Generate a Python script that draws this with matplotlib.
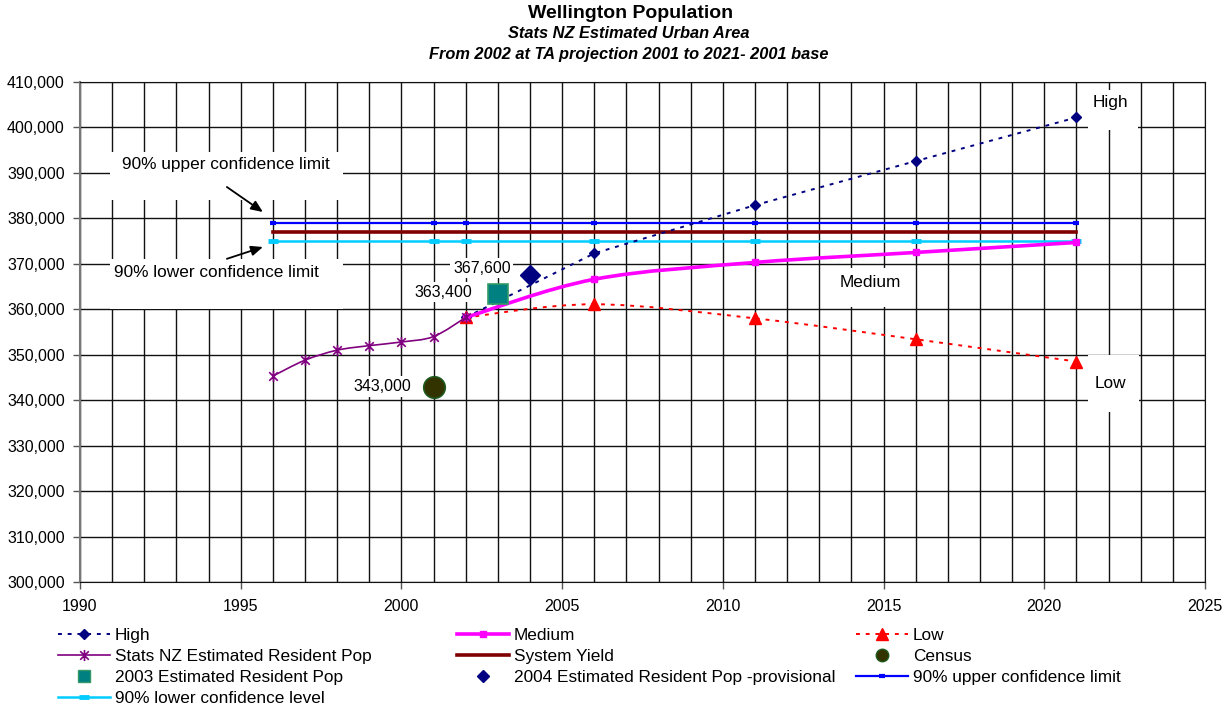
import matplotlib
matplotlib.use("Agg")
import matplotlib.pyplot as plt
from matplotlib.lines import Line2D
from matplotlib.patches import Rectangle, PathPatch
from matplotlib.path import Path
from matplotlib.ticker import FuncFormatter, MultipleLocator

plt.rcParams["font.family"] = ["Liberation Sans", "DejaVu Sans"]

# ---- data -----------------------------------------------------------------
erp_years = [1996, 1997, 1998, 1999, 2000, 2001, 2002]
erp_pop = [345300, 348800, 351000, 352000, 352800, 354000, 358200]

proj_years = [2002, 2006, 2011, 2016, 2021]
high_pop = [358200, 372300, 382900, 392600, 402200]
medium_pop = [358200, 366600, 370300, 372500, 374700]
low_pop = [358200, 361100, 358000, 353400, 348500]

conf_years = [1996, 2001, 2002, 2006, 2011, 2016, 2021]
upper_conf = [379000] * len(conf_years)
lower_conf = [375000] * len(conf_years)
yield_years = [1996, 2021]
system_yield = [377000, 377000]

census_year, census_pop = [2001], [343000]
erp2003_year, erp2003_pop = [2003], [363400]
erp2004_year, erp2004_pop = [2004], [367600]

NAVY, MAGENTA, RED, PURPLE = "#000080", "#FF00FF", "#FF0000", "#800080"
MAROON, BLUE, CYAN = "#800000", "#0000FF", "#00CCFF"

# asterisk-like marker: an X plus a vertical bar (Excel "star")
STAR = Path([(-1, -1), (1, 1), (-1, 1), (1, -1), (0, -1.3), (0, 1.3)],
            [Path.MOVETO, Path.LINETO, Path.MOVETO, Path.LINETO, Path.MOVETO, Path.LINETO])


def smooth_path(xs, ys):
    """Bezier path through the points, Excel-style smoothing (Catmull-Rom)."""
    pts = list(zip(xs, ys))
    verts, codes = [pts[0]], [Path.MOVETO]
    for i in range(len(pts) - 1):
        p0 = pts[i - 1] if i > 0 else pts[i]
        p1, p2 = pts[i], pts[i + 1]
        p3 = pts[i + 2] if i + 2 < len(pts) else pts[i + 1]
        c1 = (p1[0] + (p2[0] - p0[0]) / 6, p1[1] + (p2[1] - p0[1]) / 6)
        c2 = (p2[0] - (p3[0] - p1[0]) / 6, p2[1] - (p3[1] - p1[1]) / 6)
        verts += [c1, c2, p2]
        codes += [Path.CURVE4] * 3
    return Path(verts, codes)


fig = plt.figure(figsize=(12.28, 7.08), dpi=100)
ax = fig.add_axes([80 / 1228, 1 - 582 / 708, 1125 / 1228, 500 / 708])

ax.set_xlim(1990, 2025)
ax.set_ylim(300000, 410000)
ax.xaxis.set_major_locator(MultipleLocator(5))
ax.xaxis.set_minor_locator(MultipleLocator(1))
ax.yaxis.set_major_locator(MultipleLocator(10000))
ax.yaxis.set_major_formatter(FuncFormatter(lambda v, p: f"{v:,.0f}"))
ax.grid(True, which="both", axis="x", color="#111111", lw=1.0)
ax.grid(True, which="major", axis="y", color="#111111", lw=1.0)
ax.set_axisbelow(True)
ax.tick_params(axis="both", which="major", direction="out", length=5, width=1,
               labelsize=11.5, color="#555555")
ax.tick_params(axis="x", which="minor", length=0)
ax.tick_params(axis="y", pad=6)
ax.tick_params(axis="x", pad=7)
for s in ["top", "right"]:
    ax.spines[s].set_color("#111111")
ax.spines["left"].set_color("#777777")
ax.spines["bottom"].set_color("#111111")
ax.spines["left"].set_linewidth(1.5)

# ---- white label boxes that hide the grid --------------------------------
for (x0, x1, y0, y1) in [(1990.93, 1998.18, 384050, 394600),
                         (1990.93, 1998.18, 360070, 371070),
                         (2021.36, 2022.92, 399450, 408250),
                         (2021.36, 2022.95, 337400, 349940),
                         (2013.3, 2015.9, 360500, 369100)]:
    ax.add_patch(Rectangle((x0, y0), x1 - x0, y1 - y0, facecolor="white",
                           edgecolor="none", zorder=1.5))

# ---- series --------------------------------------------------------------
ax.plot(yield_years, system_yield, color=MAROON, lw=2.6, zorder=3)
ax.plot(conf_years, upper_conf, color=BLUE, lw=1.6, marker="_", ms=5, mew=3, zorder=3)
ax.plot(conf_years, lower_conf, color=CYAN, lw=1.8, marker="_", ms=7, mew=3.5, zorder=3)

ax.plot(proj_years, high_pop, color=NAVY, lw=1.4, ls=(0, (2, 3)), marker="D", ms=5.5, zorder=4)

ax.add_patch(PathPatch(smooth_path(proj_years, low_pop), fill=False, edgecolor=RED,
                       lw=1.4, ls=(0, (2, 3)), zorder=4))
ax.plot(proj_years, low_pop, ls="none", color=RED, marker="^", ms=8, zorder=4)

ax.add_patch(PathPatch(smooth_path(proj_years, medium_pop), fill=False, edgecolor=MAGENTA,
                       lw=2.6, zorder=4))
ax.plot(proj_years, medium_pop, ls="none", color=MAGENTA, marker="s", ms=5, zorder=4)

ax.add_patch(PathPatch(smooth_path(erp_years, erp_pop), fill=False, edgecolor=PURPLE,
                       lw=1.2, zorder=5))
ax.plot(erp_years, erp_pop, ls="none", color=PURPLE, marker=STAR, ms=8, mew=1.2, zorder=5)

ax.plot(census_year, census_pop, ls="none", marker="o", ms=15.5, mfc="#333300",
        mec="#1E5A1E", mew=1.2, zorder=6)
ax.plot(erp2003_year, erp2003_pop, ls="none", marker="s", ms=14.5, mfc="#008080",
        mec="#339966", mew=1.2, zorder=6)
ax.plot(erp2004_year, erp2004_pop, ls="none", marker="D", ms=10.5, mfc=NAVY,
        mec=NAVY, zorder=6)

# ---- labels --------------------------------------------------------------
lab = dict(fontsize=11.5, ha="right", va="center", zorder=7,
           bbox=dict(facecolor="white", edgecolor="none", pad=2))
ax.text(census_year[0] - 0.7, census_pop[0], f"{census_pop[0]:,}", **lab)
ax.text(erp2003_year[0] - 0.8, erp2003_pop[0] + 380, f"{erp2003_pop[0]:,}", **lab)
ax.text(erp2004_year[0] - 0.6, erp2004_pop[0] + 1450, f"{erp2004_pop[0]:,}", **lab)

txt = dict(fontsize=12.4, ha="center", va="center", zorder=7)
ax.text(1994.54, 391900, "90% upper confidence limit", **txt)
ax.text(1994.25, 368200, "90% lower confidence limit", **txt)
ax.text(2022.05, 405400, "High", **txt)
ax.text(2014.58, 366000, "Medium", **txt)
ax.text(2022.05, 343600, "Low", **txt)

arrow = dict(arrowstyle="-|>,head_length=0.7,head_width=0.3", color="black", lw=1.3,
             shrinkA=0, shrinkB=0)
ax.annotate("", xy=(1995.69, 381400), xytext=(1994.57, 386900), arrowprops=arrow, zorder=7)
ax.annotate("", xy=(1995.69, 373700), xytext=(1994.57, 371100), arrowprops=arrow, zorder=7)

# ---- titles --------------------------------------------------------------
fig.text(631 / 1228, 1 - 13 / 708, "Wellington Population", ha="center", va="center",
         fontsize=14, fontweight="bold")
fig.text(629 / 1228, 1 - 34 / 708, "Stats NZ Estimated Urban Area", ha="center",
         va="center", fontsize=11.8, fontweight="bold", fontstyle="italic")
fig.text(629 / 1228, 1 - 54 / 708, "From 2002 at TA projection 2001 to 2021- 2001 base",
         ha="center", va="center", fontsize=11.8, fontweight="bold", fontstyle="italic")

# ---- legend: three columns placed like the original ----------------------
h_high = Line2D([], [], color=NAVY, lw=1.4, ls=(0, (2, 3)), marker="D", ms=5.5)
h_med = Line2D([], [], color=MAGENTA, lw=2.6, marker="s", ms=5)
h_low = Line2D([], [], color=RED, lw=1.4, ls=(0, (2, 3)), marker="^", ms=8)
h_erp = Line2D([], [], color=PURPLE, lw=1.2, marker=STAR, ms=8, mew=1.2)
h_yield = Line2D([], [], color=MAROON, lw=2.6)
h_census = Line2D([], [], ls="none", marker="o", ms=9, mfc="#333300", mec="#1E5A1E")
h_2003 = Line2D([], [], ls="none", marker="s", ms=8.5, mfc="#008080", mec="#339966")
h_2004 = Line2D([], [], ls="none", marker="D", ms=6.5, mfc=NAVY, mec=NAVY)
h_upper = Line2D([], [], color=BLUE, lw=1.6, marker="_", ms=5, mew=3)
h_lower = Line2D([], [], color=CYAN, lw=1.8, marker="_", ms=7, mew=3.5)

columns = [
    (58, [h_high, h_erp, h_2003, h_lower],
     ["High", "Stats NZ Estimated Resident Pop", "2003 Estimated Resident Pop",
      "90% lower confidence level"]),
    (457, [h_med, h_yield, h_2004],
     ["Medium", "System Yield", "2004 Estimated Resident Pop -provisional"]),
    (856, [h_low, h_census, h_upper],
     ["Low", "Census", "90% upper confidence limit"]),
]
for x0, hs, ls_ in columns:
    leg = fig.legend(hs, ls_, loc="upper left", bbox_to_anchor=(x0 / 1228, 1 - 627.5 / 708),
                     frameon=False, fontsize=12.4, handlelength=3.0, handletextpad=0.3,
                     labelspacing=0.36, borderpad=0, borderaxespad=0)

fig.savefig("out.png", dpi=100)
